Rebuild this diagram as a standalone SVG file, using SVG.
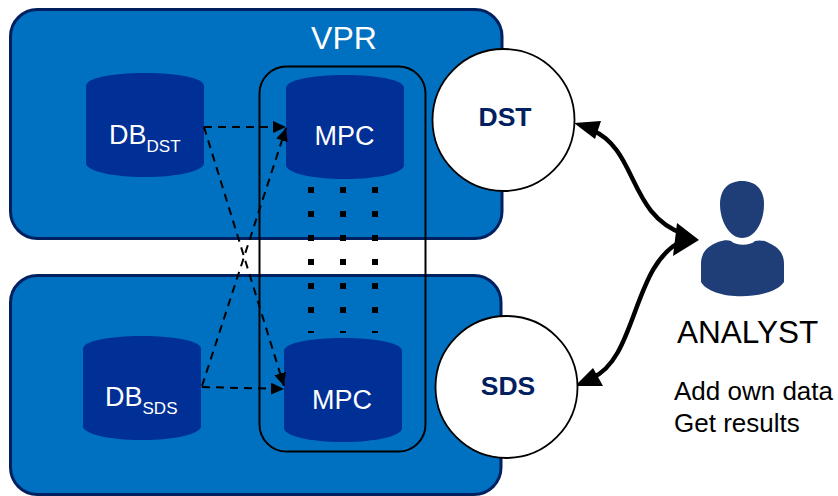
<svg xmlns="http://www.w3.org/2000/svg" width="838" height="496" viewBox="0 0 838 496">
<style>
.panel{fill:#0070c0;stroke:#002060;stroke-width:3}
.cyl{fill:#002f96}
.t{font-family:"Liberation Sans",Arial,sans-serif}
.w{fill:#fff}
.dash{fill:none;stroke:#000;stroke-width:2;stroke-dasharray:8 6}
.thick{fill:none;stroke:#000;stroke-width:4.5}
.circ{fill:#fff;stroke:#000;stroke-width:1.8}
.lbl{font-size:26.500px;font-weight:bold;fill:#002060;text-anchor:middle}
.dot{fill:#000}
</style>
<defs>
<path id="c" class="cyl" d="M0 13C0 5 26 0 59 0S118 5 118 13V90C118 98 92 104 59 104S0 98 0 90Z"/>
<g id="dots"><rect x="308" y="0" width="6" height="6"/><rect x="340" y="0" width="6" height="6"/><rect x="372" y="0" width="6" height="6"/></g>
<marker id="ah" markerUnits="userSpaceOnUse" markerWidth="14" markerHeight="14" refX="13" refY="6" orient="auto"><path d="M0 0L13 6L0 12Z"/></marker>
</defs>
<g id="panel-vpr"><rect class="panel" x="10.500" y="9.500" width="491.500" height="229" rx="27"/><text class="t w" x="344" y="49" font-size="32" text-anchor="middle">VPR</text></g>
<g id="panel-sds"><rect class="panel" x="10.500" y="275.500" width="490.500" height="219" rx="27"/></g>
<g id="db-dst"><use href="#c" x="86" y="73"/><text class="t w" x="109" y="144" font-size="27">DB<tspan font-size="17" dy="8">DST</tspan></text></g>
<g id="db-sds"><use href="#c" x="83" y="336"/><text class="t w" x="105" y="406" font-size="27">DB<tspan font-size="17" dy="8">SDS</tspan></text></g>
<g id="mpc-top"><use href="#c" x="286" y="75"/><text class="t w" x="344.500" y="145" font-size="27" text-anchor="middle">MPC</text></g>
<g id="mpc-bottom"><use href="#c" x="284" y="338"/><text class="t w" x="342" y="409" font-size="27" text-anchor="middle">MPC</text></g>
<g id="dots-grid" class="dot">
<use href="#dots" y="187"/><use href="#dots" y="211"/><use href="#dots" y="235"/><use href="#dots" y="259"/><use href="#dots" y="283"/><use href="#dots" y="307"/>
<rect x="308" y="331" width="6" height="2"/><rect x="340" y="331" width="6" height="2"/><rect x="372" y="331" width="6" height="2"/>
</g>
<g id="mpc-frame"><rect x="259.500" y="66.500" width="166" height="385" rx="27" fill="none" stroke="#000" stroke-width="2"/></g>
<g id="connectors">
<path class="dash" d="M204 127H286" marker-end="url(#ah)"/>
<path class="dash" d="M204 127L284 386" marker-end="url(#ah)"/>
<path class="dash" d="M202 386L286 128" marker-end="url(#ah)"/>
<path class="dash" d="M202 387L284 389" marker-end="url(#ah)"/>
<path class="thick" d="M592 130C638 150 628 215 684 234"/>
<path class="thick" d="M592 378C638 358 632 262 684 240"/>
<path d="M574 123L601 121L595 139Z"/>
<path d="M575 386L593 368L603 386Z"/>
<path d="M699 240L677 223L673 256Z"/>
</g>
<g id="dst"><circle class="circ" cx="503.500" cy="120" r="71"/><text class="t lbl" x="505" y="126">DST</text></g>
<g id="sds"><circle class="circ" cx="506.500" cy="387" r="71"/><text class="t lbl" x="508" y="395">SDS</text></g>
<g id="analyst">
<path fill="#1f3e77" d="M742 181C756 181 764 190 764 204C764 222 755 238 742 238C730 238 720 222 720 204C720 190 728 181 742 181Z"/>
<path fill="#1f3e77" d="M701 282V264C701 252 708 246 718 242C724 240 728 240 731 241C736 246 750 246 755 241C759 240 763 240 769 243C778 247 784 253 784 264V282C772 300 713 302 701 282Z"/>
<text class="t" x="677" y="343" font-size="31.500" fill="#000">ANALYST</text>
<text class="t" x="674" y="400" font-size="26" fill="#000">Add own data</text>
<text class="t" x="674" y="432" font-size="26" fill="#000">Get results</text>
</g>
</svg>
